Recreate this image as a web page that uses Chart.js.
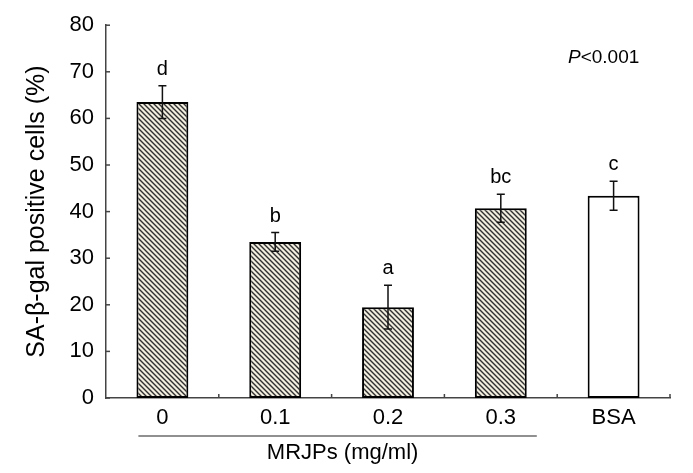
<!DOCTYPE html>
<html>
<head>
<meta charset="utf-8">
<script src="https://cdn.jsdelivr.net/npm/chart.js@4"></script>
<style>
  body { margin: 0; background: #fff; }
  #wrap { width: 693px; height: 473px; }
</style>
</head>
<body>
<div id="wrap"><canvas id="senChart" width="693" height="473"></canvas></div>
<script>
// values
const groups = ['0', '0.1', '0.2', '0.3', 'BSA'];
const positiveCells = [63.5, 33.5, 19.5, 40.7, 43.4];
const errors = [3.5, 2.0, 4.7, 3.0, 3.1];
const letters = ['d', 'b', 'a', 'bc', 'c'];
const yTicks = [0, 10, 20, 30, 40, 50, 60, 70, 80];

const FONT = '"Liberation Sans", Arial, sans-serif';

// diagonal hatch used for the MRJPs bars
function makeHatch() {
    const c = document.createElement('canvas');
    c.width = 5; c.height = 5;
    const g = c.getContext('2d');
    g.fillStyle = '#f1eddf';
    g.fillRect(0, 0, 5, 5);
    g.strokeStyle = '#303030';
    g.lineWidth = 1.4;
    g.beginPath();
    g.moveTo(0, 0); g.lineTo(5, 5);
    g.moveTo(-1, 4); g.lineTo(1, 6);
    g.moveTo(4, -1); g.lineTo(6, 1);
    g.stroke();
    return g.createPattern(c, 'repeat');
}

const extras = {
    id: 'extras',
    afterDatasetsDraw(chart) {
        const ctx = chart.ctx;
        const x = chart.scales.x, y = chart.scales.y;
        ctx.save();

        // error bars
        ctx.strokeStyle = '#111';
        ctx.lineWidth = 1.5;
        positiveCells.forEach((v, i) => {
            const px = x.getPixelForValue(i);
            const top = y.getPixelForValue(v + errors[i]);
            const bot = y.getPixelForValue(v - errors[i]);
            ctx.beginPath();
            ctx.moveTo(px, top); ctx.lineTo(px, bot);
            ctx.moveTo(px - 4, top); ctx.lineTo(px + 4, top);
            ctx.moveTo(px - 4, bot); ctx.lineTo(px + 4, bot);
            ctx.stroke();

            // significance letters
            ctx.fillStyle = '#000';
            ctx.font = '20px ' + FONT;
            ctx.textAlign = 'center';
            ctx.textBaseline = 'alphabetic';
            ctx.fillText(letters[i], px, top - 11);
        });

        // inward tick marks
        ctx.strokeStyle = '#444';
        ctx.lineWidth = 1.5;
        yTicks.forEach(t => {
            const py = y.getPixelForValue(t);
            ctx.beginPath();
            ctx.moveTo(x.left, py); ctx.lineTo(x.left + 4, py);
            ctx.stroke();
        });
        const step = x.getPixelForValue(1) - x.getPixelForValue(0);
        for (let i = 0; i < groups.length; i++) {
            const px = x.getPixelForValue(i) + step / 2;
            ctx.beginPath();
            ctx.moveTo(px, y.bottom); ctx.lineTo(px, y.bottom - 4);
            ctx.stroke();
        }

        // group line and title under the MRJPs doses
        const x0 = x.getPixelForValue(0) - 24;
        const x3 = x.getPixelForValue(3) + 36;
        ctx.strokeStyle = '#222';
        ctx.lineWidth = 1.2;
        ctx.beginPath();
        ctx.moveTo(x0, 436); ctx.lineTo(x3, 436);
        ctx.stroke();
        ctx.fillStyle = '#000';
        ctx.font = '22px ' + FONT;
        ctx.textAlign = 'center';
        ctx.textBaseline = 'alphabetic';
        ctx.fillText('MRJPs (mg/ml)', (x0 + x3) / 2 + 5, 459);

        // P value
        ctx.textAlign = 'left';
        ctx.font = 'italic 19px ' + FONT;
        ctx.fillText('P', 568, 63);
        const pw = ctx.measureText('P').width;
        ctx.font = '19px ' + FONT;
        ctx.fillText('<0.001', 568 + pw, 63);
        ctx.restore();
    }
};

function createChart() {
    const ctx = document.getElementById('senChart').getContext('2d');
    const hatch = makeHatch();
    new Chart(ctx, {
        type: 'bar',
        data: {
            labels: groups,
            datasets: [{
                data: positiveCells,
                backgroundColor: groups.map((g, i) => i < 4 ? hatch : '#ffffff'),
                borderColor: '#000',
                borderWidth: 2,
                borderSkipped: false,
                barPercentage: 0.46,
                categoryPercentage: 1
            }]
        },
        options: {
            responsive: false,
            animation: false,
            layout: { padding: { left: 0, right: 23, top: 25, bottom: 0 } },
            plugins: { legend: { display: false }, tooltip: { enabled: false } },
            scales: {
                x: {
                    grid: { display: false, drawTicks: false },
                    border: { display: true, color: '#444', width: 1.5 },
                    ticks: { color: '#000', font: { family: FONT, size: 22 }, padding: 7, maxRotation: 0 },
                    afterFit(s) { s.height = 75; }
                },
                y: {
                    min: 0, max: 80,
                    grid: { display: false, drawTicks: false },
                    border: { display: true, color: '#444', width: 1.5 },
                    ticks: { stepSize: 10, color: '#000', font: { family: FONT, size: 22 }, padding: 12 },
                    title: {
                        display: true,
                        text: 'SA-β-gal positive cells (%)',
                        color: '#000',
                        font: { family: FONT, size: 25 },
                        padding: { top: 22, bottom: 0 }
                    },
                    afterFit(s) { s.width = 106; }
                }
            }
        },
        plugins: [extras]
    });
}

window.onload = createChart;
</script>
</body>
</html>
